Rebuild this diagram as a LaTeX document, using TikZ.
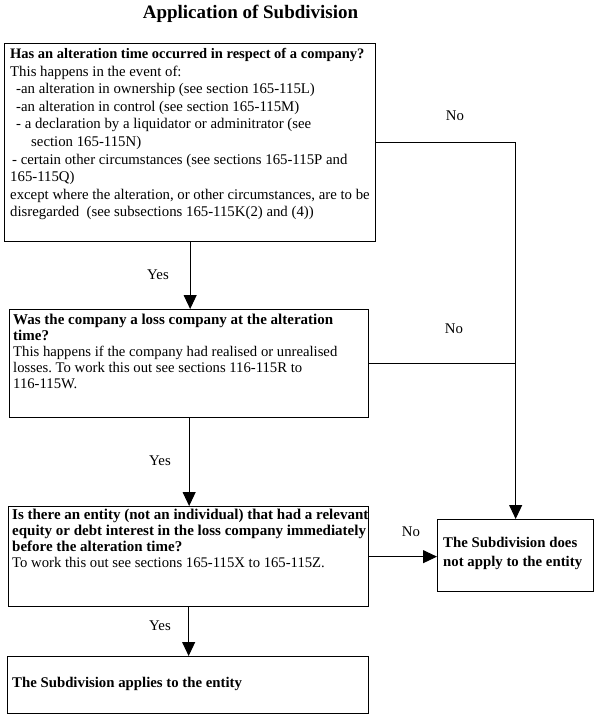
\documentclass[tikz,border=0pt]{standalone}
\usepackage{fontspec}
\setmainfont{Liberation Serif}
\usetikzlibrary{arrows.meta}
\frenchspacing
\begin{document}
\begin{tikzpicture}[x=1pt,y=-1pt,
  box/.style={draw, line width=1.3pt, rectangle, inner sep=0pt, anchor=north west},
  conn/.style={line width=1pt},
  arr/.style={line width=1pt, -{Triangle[length=14pt,width=13pt]}},
  txt/.style={anchor=base west, inner sep=0pt, font=\fontsize{14.8}{17.6}\selectfont},
  lbl/.style={inner sep=0pt, font=\fontsize{14.8}{17}\selectfont}]
\useasboundingbox (0,0) rectangle (600,720);

\node[inner sep=0pt, font=\fontsize{19}{22}\selectfont\bfseries] (title) at (250.5,14) {Application of Subdivision};

\node[box, minimum width=371pt, minimum height=198pt] (b1) at (4,43) {};
\node[box, minimum width=359pt, minimum height=108pt] (b2) at (9,309) {};
\node[box, minimum width=360pt, minimum height=100pt] (b3) at (8,506) {};
\node[box, minimum width=156pt, minimum height=72pt] (b4) at (437,519) {};
\node[box, minimum width=361pt, minimum height=57pt] (b5) at (7,656) {};

\node[txt] (t1) at (10,58.5) {\parbox[t]{370pt}{\raggedright
{\fontsize{14.5}{17.6}\selectfont\bfseries Has an alteration time occurred in respect of a company?}\\
This happens in the event of:\\
\hspace*{6pt}-an alteration in ownership (see section 165-115L)\\
\hspace*{6pt}-an alteration in control (see section 165-115M)\\
\hspace*{6pt}- a declaration by a liquidator or adminitrator (see\\
\hspace*{21pt}section 165-115N)\\
\hspace*{2pt}- certain other circumstances (see sections 165-115P and\\
165-115Q)\\
except where the alteration, or other circumstances, are to be\\
disregarded\ \ (see subsections 165-115K(2) and (4))}};

\node[txt, font=\fontsize{14.7}{16}\selectfont] (t2) at (13,324) {\parbox[t]{360pt}{\raggedright
{\fontsize{15}{16}\selectfont\bfseries Was the company a loss company at the alteration}\\
{\fontsize{15}{16}\selectfont\bfseries time?}\\
This happens if the company had realised or unrealised\\
losses. To work this out see sections 116-115R to\\
116-115W.}};

\node[txt, font=\fontsize{14.7}{16}\selectfont] (t3) at (12,519) {\parbox[t]{360pt}{\raggedright
{\fontsize{15}{16}\selectfont\bfseries Is there an entity (not an individual) that had a relevant}\\
{\fontsize{15}{16}\selectfont\bfseries equity or debt interest in the loss company immediately}\\
{\fontsize{15}{16}\selectfont\bfseries before the alteration time?}\\
To work this out see sections 165-115X to 165-115Z.}};

\node[txt, font=\fontsize{14.8}{19}\selectfont] (t4) at (443,547) {\parbox[t]{150pt}{\raggedright
\textbf{The Subdivision does}\\
\textbf{not apply to the entity}}};

\node[txt] (t5) at (12,687) {\textbf{The Subdivision applies to the entity}};

\node[lbl] (y1) at (158,275) {Yes};
\node[lbl] (y2) at (160,461) {Yes};
\node[lbl] (y3) at (160,626) {Yes};
\node[lbl] (n1) at (455,116) {No};
\node[lbl] (n2) at (454,329) {No};
\node[lbl] (n3) at (411,532) {No};

\draw[arr] (b1.south) -- (b1.south |- b2.north);
\draw[arr] (b2.south) -- (b2.south |- b3.north);
\draw[arr] (b3.south) -- (b3.south |- b5.north);
\draw[arr] (b1.east) -| (b4.north);
\draw[conn] (b2.east) -- (b2.east -| b4.north);
\draw[arr] (b3.east) -- (b3.east -| b4.west);
\end{tikzpicture}
\end{document}
